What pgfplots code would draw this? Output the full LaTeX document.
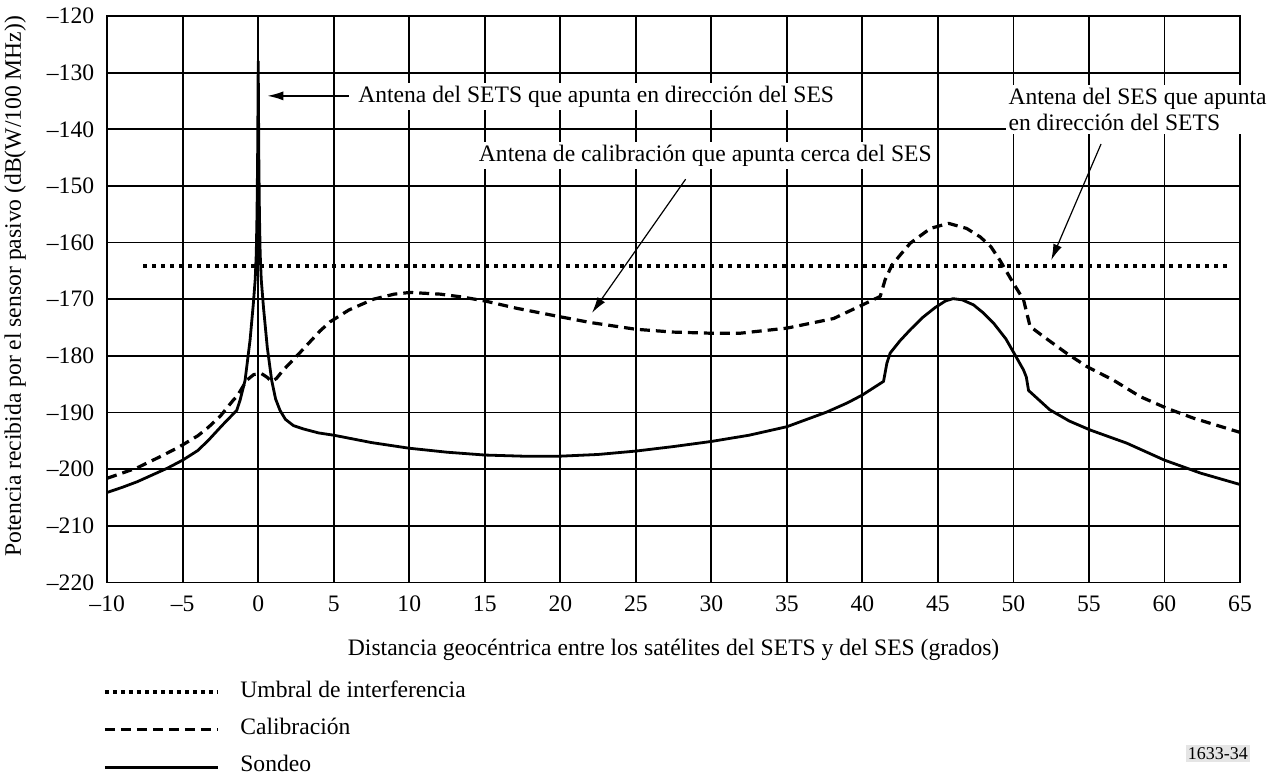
\documentclass[border=0pt]{standalone}
\usepackage{fontspec}
\setmainfont{Liberation Serif}
\usepackage{pgfplots}
\pgfplotsset{compat=1.18}
\usetikzlibrary{arrows.meta}

\begin{document}
\begin{tikzpicture}[font=\fontsize{11.8}{13}\selectfont]
\path[use as bounding box] (-53.6pt,-96pt) rectangle (586pt,291.3pt);
\begin{axis}[
    name=ax, at={(0,0)}, anchor=south west,
    scale only axis, width=566.5pt, height=283.3pt,
    xmin=-10, xmax=65, ymin=-220, ymax=-120,
    xtick={-10,-5,...,65}, ytick={-220,-210,...,-120},
    xticklabels={–10,–5,0,5,10,15,20,25,30,35,40,45,50,55,60,65},
    yticklabels={–220,–210,–200,–190,–180,–170,–160,–150,–140,–130,–120},
    major tick length=0pt,
    grid=major, grid style={black, line width=0.9pt},
    axis line style={black, line width=0.9pt},
    yticklabel style={xshift=-3pt},
    xticklabel style={yshift=-3pt},
    xlabel={Distancia geocéntrica entre los satélites del SETS y del SES (grados)},
    xlabel style={at={(axis description cs:0.5,-0.1183)}, anchor=center},
    ylabel={Potencia recibida por el sensor pasivo (dB(W/100 MHz))},
    ylabel style={at={(axis description cs:-0.0812,0.523)}, anchor=center},
    clip=false,
]
% umbral de interferencia
\addplot[black, line width=2pt, dash pattern=on 2pt off 2.5pt] coordinates {
    (-7.6,-164.2) (64.4,-164.2)
};
% calibracion
\addplot[black, line width=1.6pt, dash pattern=on 5pt off 3pt, line join=round] coordinates {
    (-10,-201.6) (-8.05,-199.8) (-6.5,-197.8) (-5.4,-196.3) (-5,-195.7) (-4,-194.1)
    (-3.3,-192.6) (-2.5,-190.6) (-1.65,-187.8) (-1.42,-187.2) (-0.76,-184.3) (-0.3,-183.3)
    (0.2,-183.1) (0.55,-183.7) (0.89,-184.5) (1.2,-184.0) (1.66,-182.5) (2.2,-181)
    (2.77,-179.4) (3.5,-177.3) (4.09,-175.6) (4.75,-174.0) (6,-171.9) (7.62,-170.0)
    (9,-169.1) (10.05,-168.8) (12.04,-169.1) (13.5,-169.6) (15,-170.3) (17.12,-171.6)
    (20,-173.1) (21.97,-174.1) (25,-175.3) (27.5,-175.8) (30,-176.0) (31.9,-176.0)
    (35,-175.1) (38.1,-173.4) (40,-171.0) (41.18,-169.5) (41.5,-166.6) (41.95,-164.0)
    (42.5,-162.2) (43.17,-160.1) (44.5,-157.5) (45.7,-156.6) (46.9,-157.5) (47.8,-159.0)
    (48.5,-160.7) (49.1,-163.1) (50.0,-167.2) (50.67,-170.1) (51.0,-173.7) (51.1,-174.8)
    (52.0,-176.6) (53.5,-179.5) (54.87,-181.9) (56.63,-184.3) (58.4,-187.2) (60.16,-189.25)
    (61.93,-191.0) (65,-193.5)
};
% sondeo
\addplot[black, line width=1.4pt, line join=round] coordinates {
    (-10,-204.1) (-9,-203.2) (-8,-202.2) (-7,-201.0) (-6,-199.8) (-5,-198.4) (-4,-196.7)
    (-3.3,-194.9) (-2.4,-192.3) (-1.42,-189.6) (-1.2,-187.8) (-0.87,-184.3) (-0.54,-177.2)
    (-0.33,-171) (-0.2,-166.5) (-0.13,-162) (-0.08,-155) (-0.04,-145) (-0.015,-135)
    (0,-128) (0.015,-135) (0.04,-145) (0.08,-155) (0.13,-162) (0.2,-166.5) (0.35,-171.5)
    (0.6,-178.5) (0.89,-184.3) (1.15,-187.6) (1.44,-189.6) (1.8,-191.2) (2.33,-192.3)
    (3,-192.9) (4,-193.6) (5,-194.0) (7.5,-195.3) (10,-196.3) (12.5,-197.0) (15,-197.5)
    (17.5,-197.7) (20,-197.7) (22.5,-197.4) (25,-196.8) (27.5,-196.0) (30,-195.1)
    (32.5,-194.0) (35,-192.5) (37.65,-189.9) (39,-188.3) (40,-186.9) (41.4,-184.5)
    (41.62,-181.3) (41.84,-179.5) (42.5,-177.3) (43.2,-175.3) (44.0,-173.2) (44.8,-171.5)
    (45.5,-170.3) (46.0,-169.9) (46.6,-170.1) (47.36,-171) (48.0,-172.4) (48.68,-174.2)
    (49.5,-177.0) (50.1,-179.8) (50.67,-182.5) (50.85,-183.7) (51.0,-186.1) (52.4,-189.5)
    (53.7,-191.5) (55.1,-193.1) (57.5,-195.4) (60,-198.4) (62.4,-200.7) (65,-202.7)
};
% anotaciones
\draw[line width=0.8pt, -{Latex[length=8pt,width=4.5pt]}] (axis cs:6.0,-134.1) -- (axis cs:0.6,-134.1);
\node[anchor=west, inner sep=1.5pt, fill=white] at (axis cs:6.4,-134.2) {Antena del SETS que apunta en dirección del SES};
\node[inner sep=1.5pt, fill=white] at (axis cs:29.6,-144.6) {Antena de calibración que apunta cerca del SES};
\draw[line width=0.6pt, -{Latex[length=8pt,width=4.5pt]}] (axis cs:28.3,-148.8) -- (axis cs:22.1,-172.4);
\node[anchor=west, align=left, inner sep=1.5pt, fill=white] at (axis cs:49.45,-136.5) {Antena del SES que apunta\\en dirección del SETS};
\draw[line width=0.6pt, -{Latex[length=8pt,width=4.5pt]}] (axis cs:55.8,-142.6) -- (axis cs:52.5,-163.1);
\end{axis}
% leyenda
\draw[black, line width=2pt, dash pattern=on 2pt off 2pt] (-1.1pt,-55pt) -- (55.4pt,-55pt);
\node[anchor=base west, inner sep=0pt] at (66.4pt,-57.6pt) {Umbral de interferencia};
\draw[black, line width=1.6pt, dash pattern=on 5pt off 3pt] (-1.1pt,-73.5pt) -- (55.4pt,-73.5pt);
\node[anchor=base west, inner sep=0pt] at (66.4pt,-76.1pt) {Calibración};
\draw[black, line width=1.4pt] (-1.1pt,-92.5pt) -- (55.4pt,-92.5pt);
\node[anchor=base west, inner sep=0pt] at (66.4pt,-94.3pt) {Sondeo};
\node[fill=black!10, inner sep=1pt, font=\fontsize{9}{10}\selectfont] at (555.4pt,-85.5pt) {1633-34};
\end{tikzpicture}
\end{document}
